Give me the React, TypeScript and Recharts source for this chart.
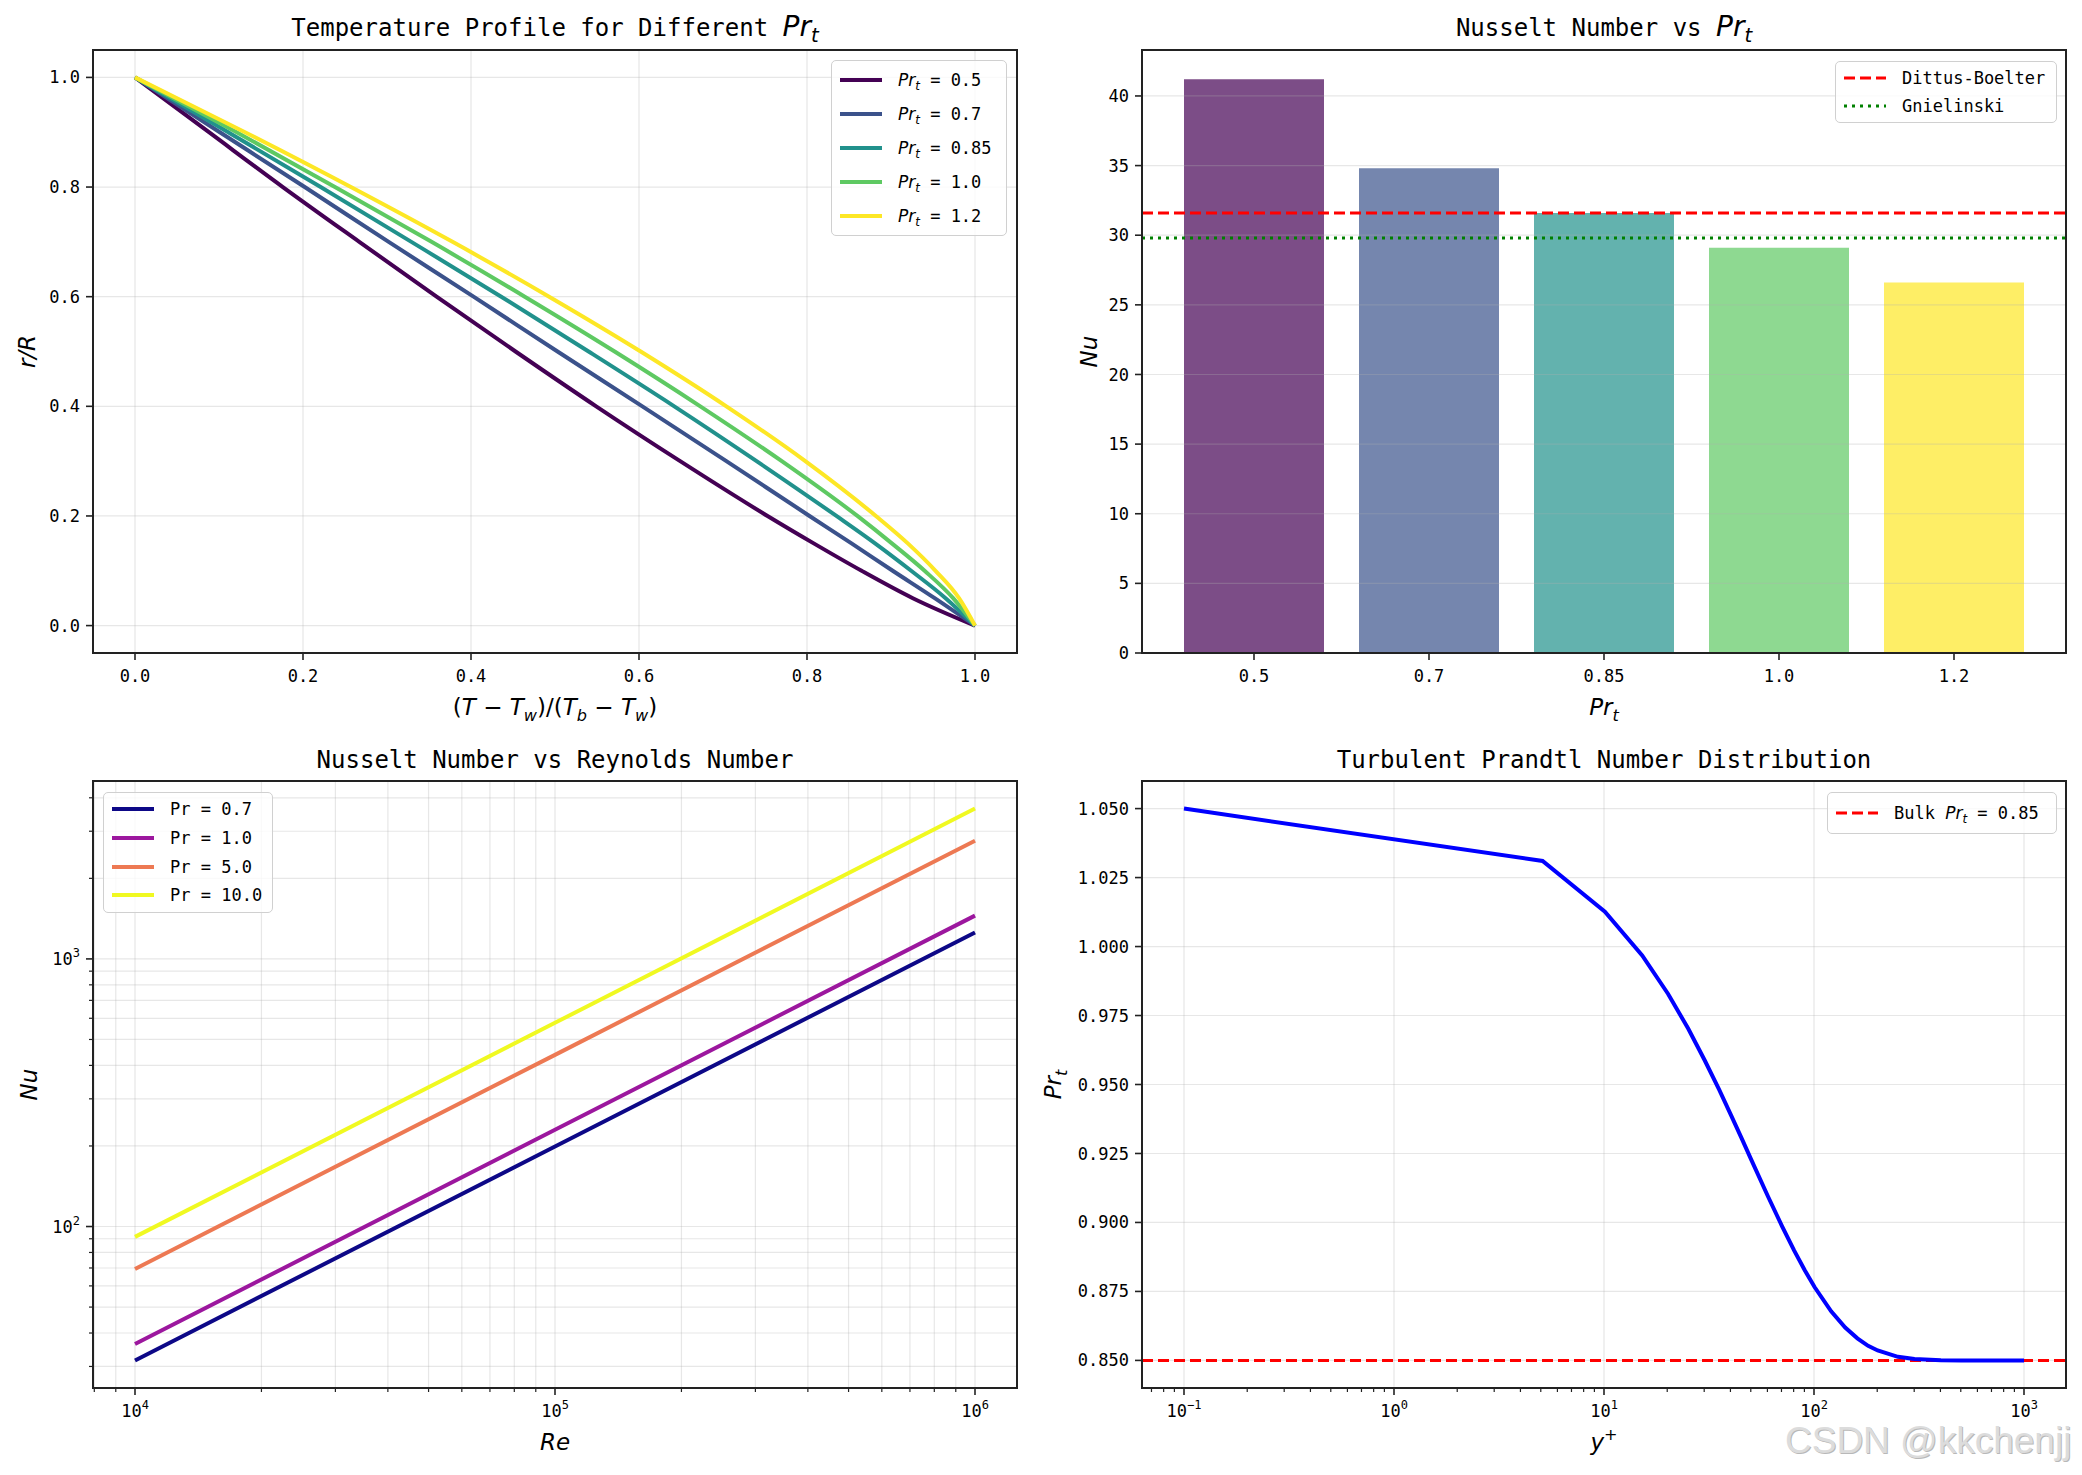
import React from "react";
import {
  Bar,
  BarChart,
  CartesianGrid,
  Cell,
  Legend,
  Line,
  LineChart,
  ReferenceLine,
  XAxis,
  YAxis,
} from "recharts";

const TEXT = '"DejaVu Sans Mono", "Liberation Mono", monospace';
const MATH = '"DejaVu Sans", sans-serif';
const INK = "#222222";
const GRID = "#b0b0b0";
const TICK = 7;
const GAP = 6;
const XGAP = 10;
const YW = 60;
const XH = 40;

// temperature profile, r/R against (T - Tw)/(Tb - Tw)
const radius = [1.0, 0.9, 0.8, 0.7, 0.6, 0.5, 0.4, 0.3, 0.2, 0.15, 0.1, 0.05, 0];
const thetaPrt05 = [0, 0.088, 0.176, 0.267, 0.359, 0.453, 0.549, 0.649, 0.753, 0.808, 0.865, 0.926, 1];
const thetaPrt07 = [0, 0.101, 0.202, 0.302, 0.403, 0.503, 0.604, 0.704, 0.803, 0.853, 0.902, 0.952, 1];
const thetaPrt085 = [0, 0.111, 0.221, 0.329, 0.436, 0.54, 0.642, 0.74, 0.835, 0.881, 0.924, 0.965, 1];
const thetaPrt10 = [0, 0.121, 0.238, 0.353, 0.464, 0.571, 0.673, 0.77, 0.86, 0.901, 0.94, 0.974, 1];
const thetaPrt12 = [0, 0.131, 0.257, 0.378, 0.493, 0.602, 0.704, 0.798, 0.882, 0.92, 0.953, 0.981, 1];
const profileLabels = ["0.5", "0.7", "0.85", "1.0", "1.2"];
const viridis5 = ["#440154", "#3b528b", "#21918c", "#5ec962", "#fde725"];
const unitTicks = [0, 0.2, 0.4, 0.6, 0.8, 1.0];

// Nusselt number per turbulent Prandtl number
const prtCategories = ["0.5", "0.7", "0.85", "1.0", "1.2"];
const nusseltValues = [41.2, 34.8, 31.6, 29.1, 26.6];
const dittusBoelter = 31.6;
const gnielinski = 29.8;
const nuTicks = [0, 5, 10, 15, 20, 25, 30, 35, 40];

// Nu against Re
const reynolds = [1e4, 1e5, 1e6];
const nuPr07 = [31.6, 199, 1256];
const nuPr10 = [36.4, 230, 1451];
const nuPr50 = [69.4, 438, 2763];
const nuPr100 = [91.5, 577, 3645];
const prLabels = ["0.7", "1.0", "5.0", "10.0"];
const plasma4 = ["#0d0887", "#9c179e", "#ed7953", "#f0f921"];

// local turbulent Prandtl number across the wall layer
const yPlus = [0.1, 5.1, 10.1, 15.2, 20.2, 25.2, 30.2, 35.3, 40.3, 45.3, 50.3, 60.4, 70.4, 80.5, 90.5, 100.6, 120.7, 140.8, 160.9, 181, 201, 251, 301, 402, 503, 1000];
const prtLocal = [1.05, 1.031, 1.0126, 0.9968, 0.9828, 0.9702, 0.9587, 0.9482, 0.9388, 0.9304, 0.9227, 0.9094, 0.8987, 0.8898, 0.8826, 0.8766, 0.8678, 0.8619, 0.858, 0.8553, 0.8536, 0.8513, 0.8505, 0.8501, 0.85, 0.85];
const bulkPrt = 0.85;
const prtTicks = [0.85, 0.875, 0.9, 0.925, 0.95, 0.975, 1.0, 1.025, 1.05];
const yPlusMajor = [0.1, 1, 10, 100, 1000];

const profileSeries = [thetaPrt05, thetaPrt07, thetaPrt085, thetaPrt10, thetaPrt12].map((theta) =>
  theta.map((t, i) => ({ theta: t, r: radius[i] }))
);
const barData = prtCategories.map((c, i) => ({ prt: c, nu: nusseltValues[i] }));
const reData = reynolds.map((re, i) => ({ re, a: nuPr07[i], b: nuPr10[i], c: nuPr50[i], d: nuPr100[i] }));
const prtData = yPlus.map((y, i) => ({ y, prt: prtLocal[i] }));

// all 1..9 multiples of each decade that fall inside [lo, hi]
function logTicks(lo: number, hi: number) {
  const out: number[] = [];
  for (let e = Math.floor(Math.log10(lo)); e <= Math.ceil(Math.log10(hi)); e++) {
    for (let m = 1; m < 10; m++) {
      const v = Number((m * Math.pow(10, e)).toPrecision(6));
      if (v >= lo && v <= hi) out.push(v);
    }
  }
  return out;
}

const isDecade = (v: number) => Math.abs(Math.log10(v) - Math.round(Math.log10(v))) < 1e-9;

type Seg = { t: string; i?: boolean; sub?: boolean; sup?: boolean };

function svgMath(segs: Seg[], size: number) {
  let shift = 0;
  return segs.map((s, k) => {
    const target = s.sub ? size * 0.25 : s.sup ? -size * 0.42 : 0;
    const dy = target - shift;
    shift = target;
    return (
      <tspan key={k} dy={dy} fontStyle={s.i ? "italic" : "normal"} fontSize={s.sub || s.sup ? size * 0.7 : size}>
        {s.t}
      </tspan>
    );
  });
}

function htmlMath(segs: Seg[]) {
  return segs.map((s, k) => (
    <span
      key={k}
      style={{
        fontFamily: s.i ? MATH : undefined,
        fontStyle: s.i ? "italic" : "normal",
        fontSize: s.sub || s.sup ? "0.7em" : undefined,
        position: "relative",
        top: s.sub ? "0.3em" : s.sup ? "-0.45em" : 0,
        whiteSpace: "pre",
      }}
    >
      {s.t}
    </span>
  ));
}

const PRT: Seg[] = [{ t: "Pr", i: true }, { t: "t", i: true, sub: true }];

const xLabel = (segs: Seg[], dy: number) => (p: any) => {
  const vb = p.viewBox;
  return (
    <text x={vb.x + vb.width / 2} y={vb.y + dy} textAnchor="middle" fontFamily={MATH} fill="#000" style={{ whiteSpace: "pre" }}>
      {svgMath(segs, 23)}
    </text>
  );
};

const yLabel = (segs: Seg[], dx: number) => (p: any) => {
  const vb = p.viewBox;
  const x = vb.x + vb.width + dx;
  const y = vb.y + vb.height / 2;
  return (
    <text x={x} y={y} textAnchor="middle" fontFamily={MATH} fill="#000" transform={`rotate(-90 ${x} ${y})`}>
      {svgMath(segs, 23)}
    </text>
  );
};

function expText(v: number) {
  const e = Math.round(Math.log10(v));
  return e < 0 ? "\u2212" + -e : String(e);
}

function LogTickX(props: any) {
  const { x, y, payload } = props;
  const v = payload.value;
  const major = isDecade(v);
  const axisY = y - TICK - GAP;
  return (
    <g>
      <line x1={x} x2={x} y1={axisY} y2={axisY + (major ? TICK : 4)} stroke={INK} strokeWidth={major ? 1.6 : 1.2} />
      {major && (
        <text x={x} y={y} dy={16} textAnchor="middle" fontFamily={TEXT} fontSize={17} fill="#000">
          10
          <tspan dy={-8} fontSize={12}>
            {expText(v)}
          </tspan>
        </text>
      )}
    </g>
  );
}

function LogTickY(props: any) {
  const { x, y, payload } = props;
  const v = payload.value;
  const major = isDecade(v);
  const axisX = x + TICK + GAP;
  return (
    <g>
      <line x1={axisX} x2={axisX - (major ? TICK : 4)} y1={y} y2={y} stroke={INK} strokeWidth={major ? 1.6 : 1.2} />
      {major && (
        <text x={x} y={y} dy={6} textAnchor="end" fontFamily={TEXT} fontSize={17} fill="#000">
          10
          <tspan dy={-8} fontSize={12}>
            {expText(v)}
          </tspan>
        </text>
      )}
    </g>
  );
}

type Row = { label: Seg[]; color: string; width: number; dash?: string };

function LegendBox({ rows, width, rowH }: { rows: Row[]; width: number; rowH: number }) {
  return (
    <div
      style={{
        width,
        boxSizing: "border-box",
        background: "rgba(255,255,255,0.8)",
        border: "1.5px solid #d0d0d0",
        borderRadius: 5,
        padding: "2px 8px",
        fontFamily: TEXT,
        fontSize: 17,
        color: "#000",
      }}
    >
      {rows.map((r, k) => (
        <div key={k} style={{ display: "flex", alignItems: "center", height: rowH }}>
          <svg width={42} height={8} style={{ flex: "none" }}>
            <line x1={0} x2={42} y1={4} y2={4} stroke={r.color} strokeWidth={r.width} strokeDasharray={r.dash} />
          </svg>
          <span style={{ marginLeft: 16, whiteSpace: "pre" }}>{htmlMath(r.label)}</span>
        </div>
      ))}
    </div>
  );
}

type Box = { left: number; top: number; w: number; h: number };
type Rect = { x: number; y: number; w: number; h: number };

const marginFor = (b: Box, p: Rect) => ({
  left: p.x - b.left - YW,
  top: p.y - b.top,
  right: b.left + b.w - (p.x + p.w),
  bottom: b.top + b.h - (p.y + p.h) - XH,
});

function Frame({ p }: { p: Rect }) {
  return (
    <div
      style={{
        position: "absolute",
        left: p.x - 1,
        top: p.y - 1,
        width: p.w + 2,
        height: p.h + 2,
        boxSizing: "border-box",
        border: `2px solid ${INK}`,
        pointerEvents: "none",
      }}
    />
  );
}

function Title({ p, top, children }: { p: Rect; top: number; children: React.ReactNode }) {
  return (
    <div
      style={{
        position: "absolute",
        left: p.x,
        width: p.w,
        top,
        textAlign: "center",
        fontFamily: TEXT,
        fontSize: 24,
        lineHeight: "30px",
        color: "#000",
        whiteSpace: "pre",
      }}
    >
      {children}
    </div>
  );
}

const boxTL: Box = { left: 0, top: 0, w: 1041, h: 737 };
const boxTR: Box = { left: 1020, top: 0, w: 1062, h: 737 };
const boxBL: Box = { left: 0, top: 737, w: 1041, h: 738 };
const boxBR: Box = { left: 1020, top: 737, w: 1062, h: 738 };
const plotTL: Rect = { x: 93, y: 50, w: 924, h: 603 };
const plotTR: Rect = { x: 1142, y: 50, w: 924, h: 603 };
const plotBL: Rect = { x: 93, y: 781, w: 924, h: 607 };
const plotBR: Rect = { x: 1142, y: 781, w: 924, h: 607 };

const tickStyle = { fontFamily: TEXT, fontSize: 17, fill: "#000" };
const tickLine = { stroke: INK, strokeWidth: 1.6 };
const gridProps = { stroke: GRID, strokeOpacity: 0.3, strokeWidth: 1.2 };

const legendAt = (b: Box, left: number, top: number) => ({
  position: "absolute" as const,
  left: left - b.left,
  top: top - b.top,
  width: "auto",
});

const reDomain = [Math.pow(10, 3.9), Math.pow(10, 6.1)];
const nuDomain = [Math.pow(10, 1.3966), Math.pow(10, 3.6648)];
const yPlusDomain = [Math.pow(10, -1.2), Math.pow(10, 3.2)];

export default function App() {
  return (
    <div style={{ position: "absolute", left: 0, top: 0, width: 2082, height: 1475, background: "#fff", overflow: "hidden" }}>
      {/* temperature profiles */}
      <div style={{ position: "absolute", left: boxTL.left, top: boxTL.top }}>
        <LineChart width={boxTL.w} height={boxTL.h} margin={marginFor(boxTL, plotTL)}>
          <CartesianGrid {...gridProps} />
          <XAxis
            type="number"
            dataKey="theta"
            domain={[-0.05, 1.05]}
            ticks={unitTicks}
            allowDataOverflow
            height={XH}
            tickSize={TICK}
            tickMargin={XGAP}
            tick={tickStyle}
            tickLine={tickLine}
            axisLine={false}
            tickFormatter={(v: number) => v.toFixed(1)}
            label={xLabel(
              [{ t: "(" }, { t: "T", i: true }, { t: " \u2212 " }, { t: "T", i: true }, { t: "w", i: true, sub: true }, { t: ")/(" }, { t: "T", i: true }, { t: "b", i: true, sub: true }, { t: " \u2212 " }, { t: "T", i: true }, { t: "w", i: true, sub: true }, { t: ")" }],
              62
            )}
          />
          <YAxis
            type="number"
            dataKey="r"
            domain={[-0.05, 1.05]}
            ticks={unitTicks}
            allowDataOverflow
            width={YW}
            tickSize={TICK}
            tickMargin={GAP}
            tick={tickStyle}
            tickLine={tickLine}
            axisLine={false}
            tickFormatter={(v: number) => v.toFixed(1)}
            label={yLabel([{ t: "r/R", i: true }], -58)}
          />
          {profileSeries.map((d, k) => (
            <Line
              key={k}
              data={d}
              dataKey="r"
              type="monotone"
              stroke={viridis5[k]}
              strokeWidth={4}
              dot={false}
              isAnimationActive={false}
            />
          ))}
          <Legend
            layout="vertical"
            align="center"
            verticalAlign="middle"
            wrapperStyle={legendAt(boxTL, 831, 60)}
            content={() => (
              <LegendBox
                width={176}
                rowH={34}
                rows={profileLabels.map((l, k) => ({ label: [...PRT, { t: ` = ${l}` }], color: viridis5[k], width: 4 }))}
              />
            )}
          />
        </LineChart>
        <Frame p={{ ...plotTL, x: plotTL.x - boxTL.left, y: plotTL.y - boxTL.top }} />
      </div>

      {/* Nusselt number per Prt */}
      <div style={{ position: "absolute", left: boxTR.left, top: boxTR.top }}>
        <BarChart width={boxTR.w} height={boxTR.h} data={barData} margin={marginFor(boxTR, plotTR)} barCategoryGap="10%">
          <XAxis
            dataKey="prt"
            padding={{ left: 24.5, right: 24.5 }}
            height={XH}
            tickSize={TICK}
            tickMargin={XGAP}
            tick={tickStyle}
            tickLine={tickLine}
            axisLine={false}
            interval={0}
            label={xLabel(PRT, 62)}
          />
          <YAxis
            type="number"
            domain={[0, 43.3]}
            ticks={nuTicks}
            allowDataOverflow
            width={YW}
            tickSize={TICK}
            tickMargin={GAP}
            tick={tickStyle}
            tickLine={tickLine}
            axisLine={false}
            label={yLabel([{ t: "Nu", i: true }], -45)}
          />
          <Bar dataKey="nu" isAnimationActive={false}>
            {barData.map((_, k) => (
              <Cell key={k} fill={viridis5[k]} fillOpacity={0.7} />
            ))}
          </Bar>
          {nuTicks.map((t) => (
            <ReferenceLine key={t} y={t} {...gridProps} />
          ))}
          <ReferenceLine y={dittusBoelter} stroke="#ff0000" strokeWidth={3} strokeDasharray="11 5" />
          <ReferenceLine y={gnielinski} stroke="#008000" strokeWidth={3} strokeDasharray="3 5" />
          <Legend
            layout="vertical"
            align="center"
            verticalAlign="middle"
            wrapperStyle={legendAt(boxTR, 1835, 61)}
            content={() => (
              <LegendBox
                width={222}
                rowH={28}
                rows={[
                  { label: [{ t: "Dittus-Boelter" }], color: "#ff0000", width: 3, dash: "11 5" },
                  { label: [{ t: "Gnielinski" }], color: "#008000", width: 3, dash: "3 5" },
                ]}
              />
            )}
          />
        </BarChart>
        <Frame p={{ ...plotTR, x: plotTR.x - boxTR.left, y: plotTR.y - boxTR.top }} />
      </div>

      {/* Nu against Re, log-log */}
      <div style={{ position: "absolute", left: boxBL.left, top: boxBL.top }}>
        <LineChart width={boxBL.w} height={boxBL.h} data={reData} margin={marginFor(boxBL, plotBL)}>
          <CartesianGrid {...gridProps} />
          <XAxis
            type="number"
            dataKey="re"
            scale="log"
            domain={reDomain}
            ticks={logTicks(reDomain[0], reDomain[1])}
            allowDataOverflow
            interval={0}
            height={XH}
            tickSize={TICK}
            tickMargin={GAP}
            tick={<LogTickX />}
            tickLine={false}
            axisLine={false}
            label={xLabel([{ t: "Re", i: true }], 62)}
          />
          <YAxis
            type="number"
            scale="log"
            domain={nuDomain}
            ticks={logTicks(nuDomain[0], nuDomain[1])}
            allowDataOverflow
            interval={0}
            width={YW}
            tickSize={TICK}
            tickMargin={GAP}
            tick={<LogTickY />}
            tickLine={false}
            axisLine={false}
            label={yLabel([{ t: "Nu", i: true }], -56)}
          />
          {["a", "b", "c", "d"].map((key, k) => (
            <Line key={key} dataKey={key} type="linear" stroke={plasma4[k]} strokeWidth={4} dot={false} isAnimationActive={false} />
          ))}
          <Legend
            layout="vertical"
            align="center"
            verticalAlign="middle"
            wrapperStyle={legendAt(boxBL, 103, 792)}
            content={() => (
              <LegendBox
                width={170}
                rowH={28.7}
                rows={prLabels.map((l, k) => ({ label: [{ t: `Pr = ${l}` }], color: plasma4[k], width: 4 }))}
              />
            )}
          />
        </LineChart>
        <Frame p={{ ...plotBL, x: plotBL.x - boxBL.left, y: plotBL.y - boxBL.top }} />
      </div>

      {/* Prt distribution against y+ */}
      <div style={{ position: "absolute", left: boxBR.left, top: boxBR.top }}>
        <LineChart width={boxBR.w} height={boxBR.h} data={prtData} margin={marginFor(boxBR, plotBR)}>
          <CartesianGrid {...gridProps} vertical={false} />
          {yPlusMajor.map((v) => (
            <ReferenceLine key={v} x={v} {...gridProps} />
          ))}
          <XAxis
            type="number"
            dataKey="y"
            scale="log"
            domain={yPlusDomain}
            ticks={logTicks(yPlusDomain[0], yPlusDomain[1])}
            allowDataOverflow
            interval={0}
            height={XH}
            tickSize={TICK}
            tickMargin={GAP}
            tick={<LogTickX />}
            tickLine={false}
            axisLine={false}
            label={xLabel([{ t: "y", i: true }, { t: "+", sup: true }], 62)}
          />
          <YAxis
            type="number"
            domain={[0.84, 1.06]}
            ticks={prtTicks}
            allowDataOverflow
            width={YW}
            tickSize={TICK}
            tickMargin={GAP}
            tick={tickStyle}
            tickLine={tickLine}
            axisLine={false}
            tickFormatter={(v: number) => v.toFixed(3)}
            label={yLabel(PRT, -81)}
          />
          <ReferenceLine y={bulkPrt} stroke="#ff0000" strokeWidth={3} strokeDasharray="11 5" />
          <Line dataKey="prt" type="linear" stroke="#0000ff" strokeWidth={4} dot={false} isAnimationActive={false} />
          <Legend
            layout="vertical"
            align="center"
            verticalAlign="middle"
            wrapperStyle={legendAt(boxBR, 1827, 792)}
            content={() => (
              <LegendBox
                width={230}
                rowH={36}
                rows={[{ label: [{ t: "Bulk " }, ...PRT, { t: " = 0.85" }], color: "#ff0000", width: 3, dash: "11 5" }]}
              />
            )}
          />
        </LineChart>
        <Frame p={{ ...plotBR, x: plotBR.x - boxBR.left, y: plotBR.y - boxBR.top }} />
      </div>

      <Title p={plotTL} top={12}>
        {"Temperature Profile for Different "}
        <span style={{ fontSize: 28 }}>{htmlMath(PRT)}</span>
      </Title>
      <Title p={plotTR} top={12}>
        {"Nusselt Number vs "}
        <span style={{ fontSize: 28 }}>{htmlMath(PRT)}</span>
      </Title>
      <Title p={plotBL} top={745}>
        Nusselt Number vs Reynolds Number
      </Title>
      <Title p={plotBR} top={745}>
        Turbulent Prandtl Number Distribution
      </Title>

      <div
        style={{
          position: "absolute",
          left: 1785,
          top: 1421,
          fontFamily: '"Liberation Sans", Arial, sans-serif',
          fontSize: 37,
          lineHeight: "40px",
          color: "#dcdcdc",
          textShadow: "1px 1px 0 #b8b8b8",
          whiteSpace: "pre",
        }}
      >
        CSDN @kkchenjj
      </div>
    </div>
  );
}
